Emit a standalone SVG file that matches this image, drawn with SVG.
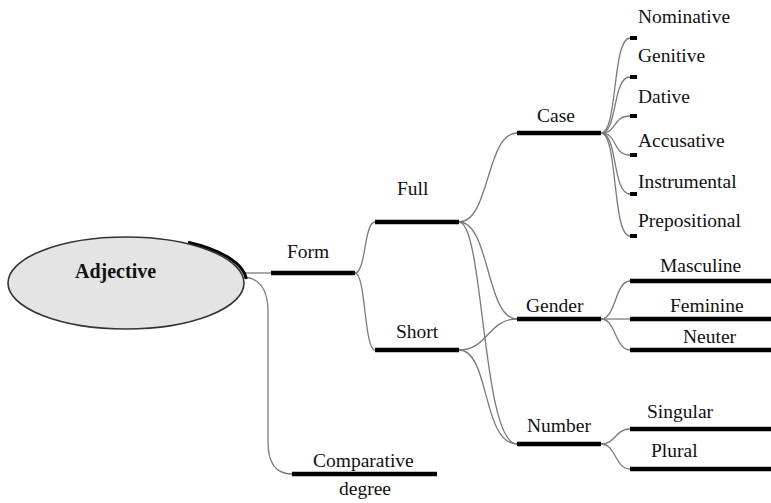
<svg xmlns="http://www.w3.org/2000/svg" width="771" height="503" viewBox="0 0 771 503">
  <style>
    .bar { stroke: #000; stroke-width: 4.5; fill: none; }
    .link { stroke: #7a7a7a; stroke-width: 1.3; fill: none; }
    .mark { fill: #000; }
    .t { font-family: 'Liberation Serif', 'DejaVu Serif', serif; font-size: 19.5px; fill: #111; }
  </style>
  <rect width="771" height="503" fill="#fff"/>

  <!-- connectors -->
  <g id="connectors">
    <path class="link" d="M245,273 L271,273"/>
    <path class="link" d="M245,277 C262,279 268,292 268,312 L268,442 C268,464 276,474 292,474"/>
    <path class="link" d="M355,273 C366,273 364,222 375,222"/>
    <path class="link" d="M355,273 C366,273 364,350 375,350"/>
    <path class="link" d="M459,222 C490,222 486,133 517,133"/>
    <path class="link" d="M459,222 C490,222 486,319 517,319"/>
    <path class="link" d="M459,222 C484,222 482,444 517,444"/>
    <path class="link" d="M459,350 C488,350 488,319 517,319"/>
    <path class="link" d="M459,350 C490,350 482,444 517,444"/>
    <!-- Case branches -->
    <path class="link" d="M601,133 C618,133 612,38 630,38"/>
    <path class="link" d="M601,133 C618,133 612,77 630,77"/>
    <path class="link" d="M601,133 C618,133 612,116 630,116"/>
    <path class="link" d="M601,133 C618,133 612,155 630,155"/>
    <path class="link" d="M601,133 C618,133 612,194 630,194"/>
    <path class="link" d="M601,133 C618,133 612,236 630,236"/>
    <!-- Gender branches -->
    <path class="link" d="M601,319 C616,319 615,281 630,281"/>
    <path class="link" d="M601,319 L630,319"/>
    <path class="link" d="M601,319 C616,319 615,350 630,350"/>
    <!-- Number branches -->
    <path class="link" d="M601,444 C616,444 615,429 630,429"/>
    <path class="link" d="M601,444 C616,444 615,469 630,469"/>
  </g>

  <!-- root ellipse with its dark rim on the upper right -->
  <g id="adjective">
    <path d="M188,242.2 A118,46 0 0 1 246.3,279" fill="none" stroke="#000" stroke-width="3"/>
    <ellipse cx="126" cy="283" rx="118" ry="46" fill="#e4e4e4" stroke="#333" stroke-width="1.6"/>
    <text class="t" x="75" y="278" font-weight="bold" style="font-size:20px">Adjective</text>
  </g>

  <g id="form">
    <line class="bar" x1="271" y1="273" x2="355" y2="273"/>
    <text class="t" x="287" y="258">Form</text>
  </g>

  <g id="full">
    <line class="bar" x1="375" y1="222" x2="459" y2="222"/>
    <text class="t" x="397" y="195">Full</text>
  </g>

  <g id="short">
    <line class="bar" x1="375" y1="350" x2="459" y2="350"/>
    <text class="t" x="396" y="338">Short</text>
  </g>

  <g id="case">
    <line class="bar" x1="517" y1="133" x2="601" y2="133"/>
    <text class="t" x="537" y="122">Case</text>
  </g>

  <g id="gender">
    <line class="bar" x1="517" y1="319" x2="601" y2="319"/>
    <text class="t" x="526" y="312">Gender</text>
  </g>

  <g id="number">
    <line class="bar" x1="517" y1="444" x2="601" y2="444"/>
    <text class="t" x="527" y="432">Number</text>
  </g>

  <g id="comparative">
    <line class="bar" x1="292" y1="474" x2="437" y2="474"/>
    <text class="t" x="313" y="467">Comparative</text>
    <text class="t" x="339" y="495">degree</text>
  </g>

  <g id="nominative">
    <rect class="mark" x="630" y="36" width="7" height="4"/>
    <text class="t" x="638" y="23">Nominative</text>
  </g>
  <g id="genitive">
    <rect class="mark" x="630" y="75" width="7" height="4"/>
    <text class="t" x="638" y="62">Genitive</text>
  </g>
  <g id="dative">
    <rect class="mark" x="630" y="114" width="7" height="4"/>
    <text class="t" x="638" y="103">Dative</text>
  </g>
  <g id="accusative">
    <rect class="mark" x="630" y="153" width="7" height="4"/>
    <text class="t" x="638" y="147">Accusative</text>
  </g>
  <g id="instrumental">
    <rect class="mark" x="630" y="192" width="7" height="4"/>
    <text class="t" x="638" y="188">Instrumental</text>
  </g>
  <g id="prepositional">
    <rect class="mark" x="630" y="234" width="7" height="4"/>
    <text class="t" x="638" y="227">Prepositional</text>
  </g>

  <g id="masculine">
    <line class="bar" x1="630" y1="281" x2="771" y2="281"/>
    <text class="t" x="660" y="272">Masculine</text>
  </g>
  <g id="feminine">
    <line class="bar" x1="630" y1="319" x2="771" y2="319"/>
    <text class="t" x="670" y="312">Feminine</text>
  </g>
  <g id="neuter">
    <line class="bar" x1="630" y1="350" x2="771" y2="350"/>
    <text class="t" x="683" y="343">Neuter</text>
  </g>
  <g id="singular">
    <line class="bar" x1="630" y1="429" x2="771" y2="429"/>
    <text class="t" x="647" y="418">Singular</text>
  </g>
  <g id="plural">
    <line class="bar" x1="630" y1="469" x2="771" y2="469"/>
    <text class="t" x="651" y="457">Plural</text>
  </g>
</svg>
